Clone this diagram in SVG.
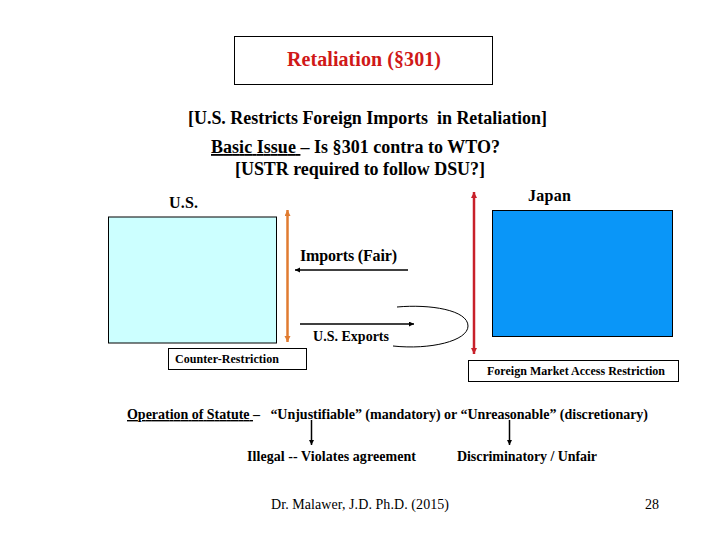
<svg xmlns="http://www.w3.org/2000/svg" width="720" height="540" viewBox="0 0 720 540">
<style>
text{font-family:"Liberation Serif","Times New Roman",serif;font-weight:bold;fill:#000;white-space:pre}
.box{fill:#fff;stroke:#000;stroke-width:1}
.conn{fill:none;stroke:#000}
</style>
<defs>
<marker id="ab" markerUnits="userSpaceOnUse" markerWidth="6" markerHeight="6" refX="5" refY="2.500" orient="auto"><path d="M0 0L5 2.500L0 5z" fill="#000"/></marker>
<marker id="ao" markerUnits="userSpaceOnUse" markerWidth="8" markerHeight="8" refX="6" refY="3" orient="auto-start-reverse"><path d="M0 0L6 3L0 6z" fill="#e07b30"/></marker>
<marker id="ar" markerUnits="userSpaceOnUse" markerWidth="8" markerHeight="8" refX="6" refY="3" orient="auto-start-reverse"><path d="M0 0L6 3L0 6z" fill="#c8202a"/></marker>
</defs>
<rect width="720" height="540" fill="#fff"/>
<g id="title"><rect class="box" x="234.500" y="36.500" width="258" height="48"/><text x="287" y="66" font-size="20" textLength="154" style="fill:#d01818">Retaliation (§301)</text></g>
<g id="headings">
<text x="188" y="124" font-size="18" textLength="359">[U.S. Restricts Foreign Imports  in Retaliation]</text>
<text x="211" y="153" font-size="18" textLength="289"><tspan text-decoration="underline">Basic Issue </tspan>– Is §301 contra to WTO?</text>
<text x="235" y="175" font-size="18" textLength="250">[USTR required to follow DSU?]</text>
</g>
<g id="us"><text x="169" y="208" font-size="16" textLength="29">U.S.</text><rect x="108.500" y="217" width="168" height="126" fill="#ccffff" stroke="#000"/></g>
<g id="japan"><text x="528" y="201" font-size="16" textLength="43">Japan</text><rect x="492.500" y="210.500" width="180" height="126" fill="#0a96f8" stroke="#000"/></g>
<g id="counter"><rect class="box" x="168.500" y="348.500" width="138" height="21"/><text x="175" y="363" font-size="12" textLength="104">Counter-Restriction</text></g>
<g id="foreign"><rect class="box" x="468.500" y="360.500" width="210" height="21"/><text x="487" y="375" font-size="12" textLength="178">Foreign Market Access Restriction</text></g>
<g id="labels">
<text x="300" y="261" font-size="16" textLength="97">Imports (Fair)</text>
<text x="313" y="341" font-size="14" textLength="76">U.S. Exports</text>
<text x="127" y="419" font-size="14" textLength="521"><tspan text-decoration="underline">Operation of Statute </tspan>–   “Unjustifiable” (mandatory) or “Unreasonable” (discretionary)</text>
<text x="247" y="461" font-size="14" textLength="169">Illegal -- Violates agreement</text>
<text x="457" y="461" font-size="14" textLength="140">Discriminatory / Unfair</text>
<text x="271" y="509" font-size="14" textLength="178" style="font-weight:normal">Dr. Malawer, J.D. Ph.D. (2015)</text>
<text x="645" y="509" font-size="14" style="font-weight:normal">28</text>
</g>
<g id="connectors">
<line x1="287.500" y1="210" x2="287.500" y2="342" stroke="#e07b30" stroke-width="2.500" marker-start="url(#ao)" marker-end="url(#ao)"/>
<line x1="474" y1="192" x2="474" y2="354" stroke="#c8202a" stroke-width="2.500" marker-start="url(#ar)" marker-end="url(#ar)"/>
<line class="conn" x1="408" y1="270" x2="295" y2="270" stroke-width="1.500" marker-end="url(#ab)"/>
<line class="conn" x1="300" y1="324" x2="414" y2="324" stroke-width="1.500" marker-end="url(#ab)"/>
<path class="conn" d="M397 307C430 304 468 310 468 326C468 341 430 350 393 346"/>
<line class="conn" x1="311.500" y1="420" x2="311.500" y2="445" stroke-width="1.500" marker-end="url(#ab)"/>
<line class="conn" x1="509.500" y1="420" x2="509.500" y2="445" stroke-width="1.500" marker-end="url(#ab)"/>
</g>
</svg>
